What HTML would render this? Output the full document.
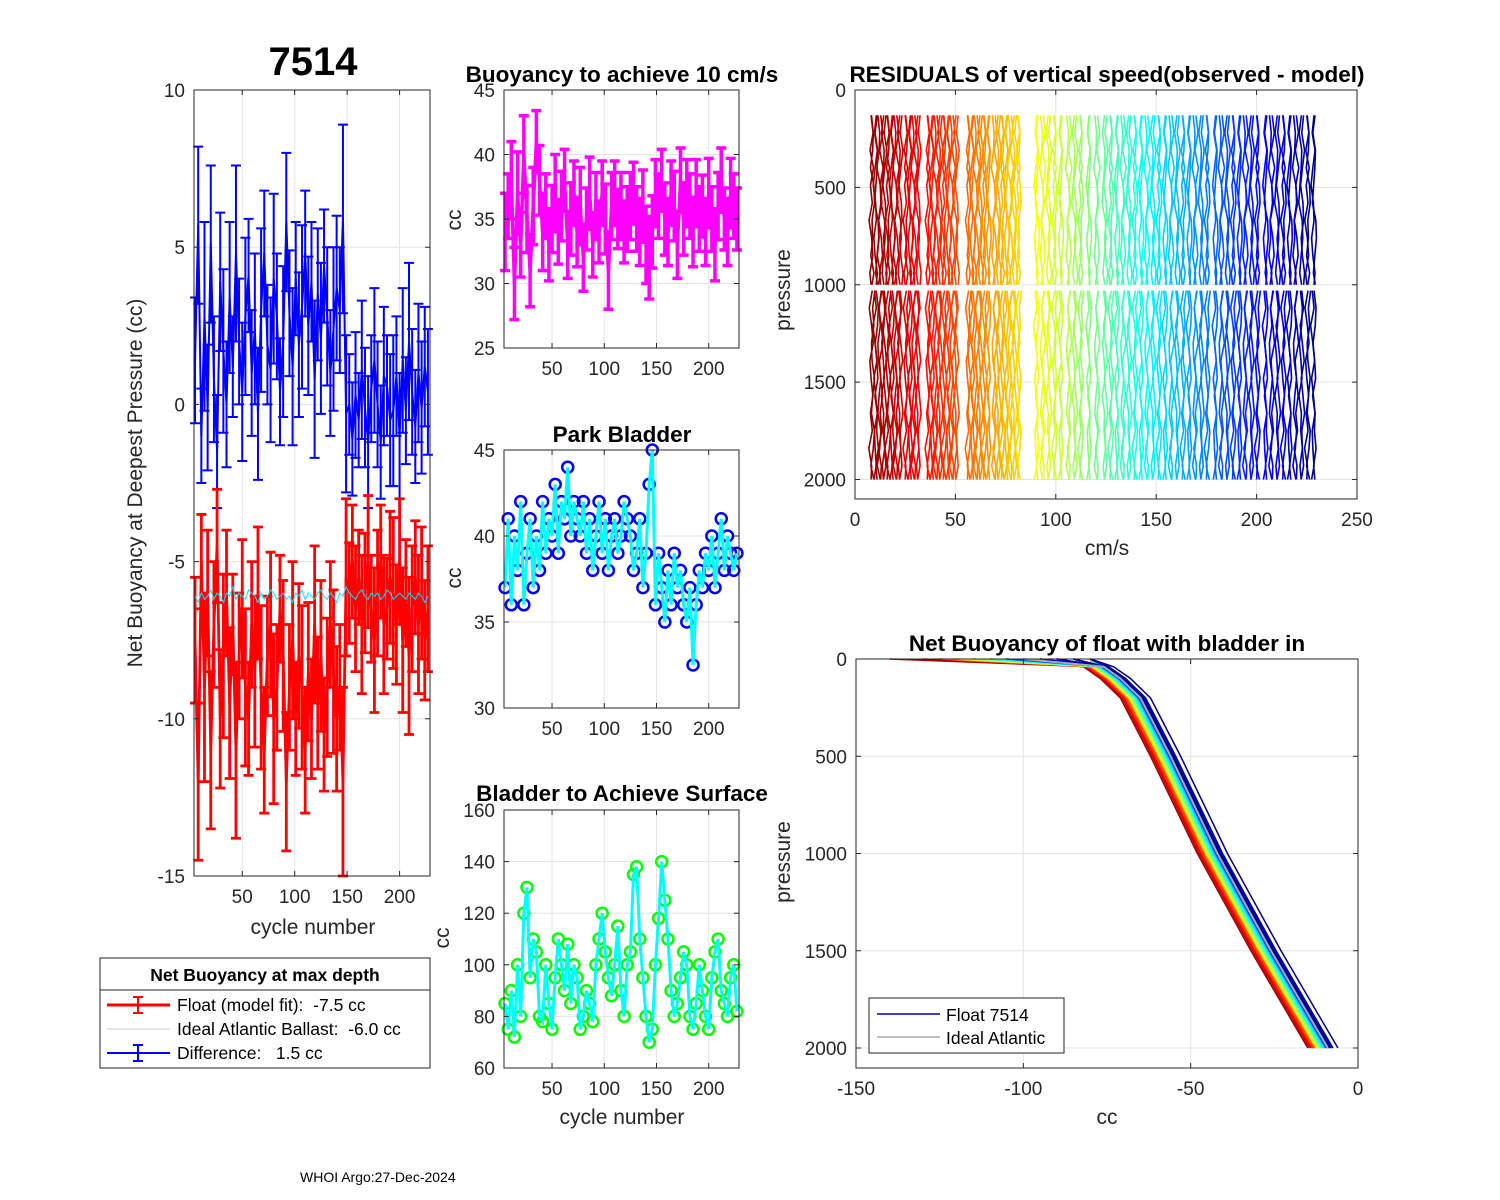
<!DOCTYPE html>
<html><head><meta charset="utf-8"><title>7514</title>
<style>
html,body{margin:0;padding:0;background:#fff;}
svg{display:block;font-family:"Liberation Sans",Arial,sans-serif;}
text{white-space:pre;}
</style></head>
<body>
<svg id="fig" width="1500" height="1200" viewBox="0 0 1500 1200" xmlns="http://www.w3.org/2000/svg">
<rect width="1500" height="1200" fill="#fff"/>
<text x="313" y="75" font-size="40" font-weight="bold" text-anchor="middle">7514</text>
<text x="622" y="82" font-size="22.5" font-weight="bold" text-anchor="middle">Buoyancy to achieve 10 cm/s</text>
<text x="622" y="442" font-size="22.5" font-weight="bold" text-anchor="middle">Park Bladder</text>
<text x="622" y="801" font-size="22.5" font-weight="bold" text-anchor="middle">Bladder to Achieve Surface</text>
<text x="1107" y="82" font-size="22.5" font-weight="bold" text-anchor="middle">RESIDUALS of vertical speed(observed - model)</text>
<text x="1107" y="651" font-size="22.5" font-weight="bold" text-anchor="middle">Net Buoyancy of float with bladder in</text>
<text x="300" y="1182" font-size="14">WHOI Argo:27-Dec-2024</text>
<g id="layer"></g>
</svg>
<script>
const cycles=[5,8,11,14,17,20,23,26,29,32,35,38,41,44,47,50,53,56,59,62,65,68,71,74,77,80,83,86,89,92,95,98,101,104,107,110,113,116,119,122,125,128,131,134,137,140,143,146,149,152,155,158,161,164,167,170,173,176,179,182,185,188,191,194,197,200,203,206,209,212,215,218,221,224,227];
const floatFit=[-7.5,-12,-5,-9,-6,-11,-7,-4.5,-10,-8,-6,-9.5,-7,-11,-8,-6.5,-9,-10,-7,-8.5,-6,-9,-11,-8,-7,-10,-9,-6.5,-8,-12,-9,-7.5,-10,-8,-9,-11,-8.5,-10,-7,-9.5,-8,-10.5,-9,-7,-8.5,-10,-9,-12,-5.5,-6,-5,-6.5,-5.5,-7,-6,-5,-6.5,-7.5,-6,-5,-7,-6.5,-5.5,-6,-7,-5,-7.5,-6,-8,-6.5,-5.5,-7,-6,-7.5,-6.5];
const idealBallast=[-6.1,-6.3,-6.0,-6.2,-6.1,-5.9,-6.2,-6.0,-6.1,-6.3,-6.0,-6.1,-5.8,-6.2,-6.0,-6.1,-6.2,-5.9,-6.0,-6.1,-6.3,-6.0,-6.2,-6.1,-5.9,-6.0,-6.2,-6.1,-6.0,-6.2,-6.1,-6.3,-6.0,-6.1,-5.9,-6.2,-6.0,-6.1,-6.2,-6.0,-5.9,-6.1,-6.2,-6.0,-6.1,-6.3,-6.0,-6.1,-5.8,-6.0,-6.1,-6.2,-6.0,-5.9,-6.1,-6.2,-6.0,-6.1,-6.0,-6.2,-6.1,-5.9,-6.0,-6.2,-6.1,-6.0,-6.1,-6.2,-6.0,-6.1,-6.2,-6.0,-6.1,-6.3,-6.1];
const fitErr=[2,2.5,1.5,3,2,2.5,2,1.8,2.2,2.6,2,2.4,1.6,2.8,2,2.2,2.5,1.8,2,2.4,2.1,2.6,2,1.9,2.3,2.7,2,1.7,2.4,2.2,2,2.5,1.8,2.3,2.6,2,2.2,1.9,2.5,2.1,2.4,1.8,2.2,2,2.6,2.3,2,3,2.5,1.6,1.8,2,1.5,2.2,1.9,2.1,1.7,2.3,2,1.8,2.2,1.6,2.1,2.4,1.9,2,2.3,1.7,2.5,2,1.8,2.2,2.1,1.9,2];
const buoy10=[34,36,38,30,37,33,40,35,31,36,41,38,34,36,33,35,37,34,36,38,33,35,37,34,36,32,35,37,33,36,34,37,35,31,36,37,35,36,34,35,36,37,35,34,36,33,32,34,37,36,38,35,34,37,36,33,38,35,37,36,34,37,35,36,34,37,35,33,36,38,35,34,37,36,35];
const buoyErr=[3,2.5,3,2.8,3.2,2.5,3,2.6,2.8,3,2.4,2.7,3,2.5,2.8,2.6,3,2.5,2.7,2.4,2.6,2.8,2.5,2.7,3,2.6,2.4,2.8,2.5,2.6,2.4,2.5,2.7,3,2.6,2.5,2.3,2.6,2.4,2.5,2.6,2.4,2.5,2.6,2.8,3,3.2,2.8,2.6,2.5,2.4,2.8,2.6,2.5,2.7,2.6,2.5,2.8,2.6,2.5,2.7,2.6,2.5,2.4,2.6,2.7,2.5,2.8,2.6,2.5,2.4,2.6,2.7,2.5,2.4];
const parkBladder=[37,41,36,40,38,42,36,39,41,37,40,38,42,39,41,40,43,39,42,41,44,40,42,41,40,42,39,41,38,40,42,39,41,38,40,41,39,40,42,41,40,38,39,41,37,39,43,45,36,39,37,35,38,36,39,37,38,36,35,37,32.5,36,38,37,39,38,40,37,39,41,38,40,39,38,39];
const surfBladder=[85,75,90,72,100,80,120,130,95,110,105,80,78,100,85,75,95,110,100,90,108,85,100,95,75,80,90,85,78,100,110,120,105,95,88,100,115,90,80,100,105,135,138,110,95,80,70,75,100,118,140,125,110,90,80,85,95,105,100,80,75,85,100,90,80,75,95,105,110,90,85,80,95,100,82];
// residuals: cycles with profiles
const residCycles=[8,10,12,14,16,18,20,22,25,27,29,31,36,38,40,42,44,46,48,50,56,58,60,62,64,66,69,71,73,75,77,79,81,90,93,96,99,102,106,109,112,116,120,124,127,130,133,136,139,142,145,148,151,154,157,160,163,166,169,172,175,179,182,185,188,191,194,197,200,204,207,210,213,216,219,222,225,228];
const presTop=[130,220,310,400,490,580,670,760,850,940,1000];
const presBot=[1030,1120,1210,1300,1390,1480,1570,1660,1750,1840,1930,2000];
const residA=[0,1,-0.5,1.2,-0.3,0.6,-1,0.3,0.9,-0.6,0,0.6,-0.9,0.3,1.1,-0.6,0,0.9,-0.3,0.6,-1.1,0.3,0];
const residB=[0.6,-0.3,1.1,0,-0.9,0.3,0.6,-0.6,0,1.1,0.6,-0.3,0.6,-1.1,0,0.9,-0.6,0.3,1.1,-0.3,0,0.6,-0.6];
const residC=[-0.6,0.3,0,-1.1,0.6,0.9,-0.3,0,-0.9,0.6,-0.3,1.1,0,0.6,-0.6,-0.3,0.9,0,-0.6,0.9,0.3,-0.9,0.6];
const residD=[0.3,-0.8,0.5,0.2,-0.4,-1,0.7,1,0.2,-0.5,0.4,-0.2,0.8,0.4,-0.7,0.1,0.6,-0.9,0.3,0,0.8,-0.4,0.2];
// net buoyancy profile
const nbPres=[0,40,100,150,200,300,500,1000,1500,2000];
const nbIdeal=[-100,-76,-71,-68,-65,-62,-56,-42,-26,-9];
const surfaceCC=[-130,-120,-100,-140,-110,-95,-125,-105,-90,-115,-100,-85,-120,-95,-110,-80,-105,-90,-125,-100,-85,-115,-95,-80,-110,-90,-100,-85,-120,-95,-80,-105,-90,-110,-85,-100,-95,-80,-115,-90,-105,-85,-100,-80,-95,-110,-85,-90,-100,-80,-95,-85,-105,-90,-80,-100,-85,-95,-80,-90,-105,-85,-80,-95,-90,-100,-85,-80,-90,-95,-85,-80,-90,-85,-80];
const deepShift=[-5,-4,-6,-3,-4.5,-5.5,-3.5,-4,-5,-4.5,-3,-4,-3.5,-4.5,-2.5,-3.5,-4,-3,-3.5,-2.5,-3,-3.5,-2,-3,-2.5,-3.5,-2,-2.5,-3,-1.5,-2.5,-2,-3,-1.5,-2,-2.5,-1.5,-2,-1,-1.5,-2,-1,-1.5,-0.5,-1,-1.5,-0.5,-1,0,-0.5,-1,0,-0.5,0.5,0,-0.5,0.5,0,1,0,0.5,-0.5,1,0.5,0,1,0.5,1.5,0,1,0.5,1.5,1,0.5,3];
const ticks1=[-15,-10,-5,0,5,10], ticksCyc=[50,100,150,200];

const NS="http://www.w3.org/2000/svg";
const layer=document.getElementById('layer');
function el(tag,attrs,parent){const e=document.createElementNS(NS,tag);for(const k in attrs)e.setAttribute(k,attrs[k]);(parent||layer).appendChild(e);return e;}
function lin(d0,d1,r0,r1){return v=>r0+(v-d0)*(r1-r0)/(d1-d0);}
function jet(t){t=1-t;const c=x=>Math.round(255*Math.max(0,Math.min(1,x)));return `rgb(${c(1.5-Math.abs(4*t-3))},${c(1.5-Math.abs(4*t-2))},${c(1.5-Math.abs(4*t-1))})`;}

function axes(name,L,T,R,B,xs,ys,xt,yt){
  const g=el('g',{});
  
  
  for(const v of xt){const x=xs(v);el('line',{x1:x,y1:T,x2:x,y2:B,stroke:'#e3e3e3','stroke-width':1},g);}
  for(const v of yt){const y=ys(v);el('line',{x1:L,y1:y,x2:R,y2:y,stroke:'#e3e3e3','stroke-width':1},g);}
  const p=el('g',{},g);
  return {g,p,finish(){
    const f=el('g',{},g);
    el('rect',{x:L,y:T,width:R-L,height:B-T,fill:'none',stroke:'#262626','stroke-width':1},f);
    for(const v of xt){const x=xs(v);el('line',{x1:x,y1:B,x2:x,y2:B-5,stroke:'#262626'},f);el('line',{x1:x,y1:T,x2:x,y2:T+5,stroke:'#262626'},f);
      const t=el('text',{x:x,y:B+27,'font-size':19,'text-anchor':'middle',fill:'#262626'},f);t.textContent=v;
      
      }
    for(const v of yt){const y=ys(v);el('line',{x1:L,y1:y,x2:L+5,y2:y,stroke:'#262626'},f);el('line',{x1:R,y1:y,x2:R-5,y2:y,stroke:'#262626'},f);
      const t=el('text',{x:L-9,y:y+7,'font-size':19,'text-anchor':'end',fill:'#262626'},f);t.textContent=v;
      
      }
  }};
}
function label(txt,x,y,rot,name){const t=el('text',{x:x,y:y,'font-size':21,'text-anchor':'middle',fill:'#262626',transform:rot?`rotate(-90 ${x} ${y})`:''});t.textContent=txt;
  
  }
function errbars(g,xs,ys,vals,errs,color,w,cap){
  let d='';
  cycles.forEach((c,i)=>{const x=xs(c);d+=(i?'L':'M')+x+','+ys(vals[i]);});
  cycles.forEach((c,i)=>{const x=xs(c),lo=ys(vals[i]-errs[i]),hi=ys(vals[i]+errs[i]);
    const b=el('path',{d:`M${x},${lo}L${x},${hi}M${x-cap},${lo}L${x+cap},${lo}M${x-cap},${hi}L${x+cap},${hi}`,stroke:color,'stroke-width':w,fill:'none'},g);
    
    });
  const l=el('path',{d,stroke:color,'stroke-width':w,fill:'none','stroke-linejoin':'round'},g);
  
  
}

// Panel 1
{const xs=lin(4,229,194,430),ys=lin(-15,10,876,90);
 const a=axes('net-buoyancy-axes',194,90,430,876,xs,ys,ticksCyc,ticks1);
 const diff=cycles.map((c,i)=>idealBallast[i]-floatFit[i]);
 errbars(a.p,xs,ys,diff,fitErr,'#0000ff',2,5);
 errbars(a.p,xs,ys,floatFit,fitErr,'#ff0000',2.8,5);
 let d='';cycles.forEach((c,i)=>{d+=(i?'L':'M')+xs(c)+','+ys(idealBallast[i]);});
 const il=el('path',{d,stroke:'#00e5ff','stroke-width':1,fill:'none'},a.p);
 
 
 a.finish();
 label('Net Buoyancy at Deepest Pressure (cc)',142,483,true,'y-axis-title');
 label('cycle number',313,934,false,'x-axis-title');}
// Panel 2
{const xs=lin(4,229,504,739),ys=lin(25,45,348,90);
 const a=axes('buoyancy-10cms-axes',504,90,739,348,xs,ys,ticksCyc,[25,30,35,40,45]);
 errbars(a.p,xs,ys,buoy10,buoyErr,'#ff00ff',3.5,5);
 a.finish();label('cc',461,220,true,'buoyancy-y-title');}
// Panel 3
{const xs=lin(4,229,504,739),ys=lin(30,45,708,450);
 const a=axes('park-bladder-axes',504,450,739,708,xs,ys,ticksCyc,[30,35,40,45]);
 cycles.forEach((c,i)=>{const m=el('circle',{cx:xs(c),cy:ys(parkBladder[i]),r:5.5,fill:'none',stroke:'#0000ff','stroke-width':2.5},a.p);
  
  });
 let d='';cycles.forEach((c,i)=>{d+=(i?'L':'M')+xs(c)+','+ys(parkBladder[i]);});
 const pl=el('path',{d,stroke:'#00ffff','stroke-width':3,fill:'none'},a.p);
 
 
 a.finish();label('cc',461,578,true,'park-y-title');}
// Panel 4
{const xs=lin(4,229,504,739),ys=lin(60,160,1068,810);
 const a=axes('surface-bladder-axes',504,810,739,1068,xs,ys,ticksCyc,[60,80,100,120,140,160]);
 cycles.forEach((c,i)=>{const m=el('circle',{cx:xs(c),cy:ys(surfBladder[i]),r:5.5,fill:'none',stroke:'#00ff00','stroke-width':2.5},a.p);
  
  });
 let d='';cycles.forEach((c,i)=>{d+=(i?'L':'M')+xs(c)+','+ys(surfBladder[i]);});
 const sl=el('path',{d,stroke:'#00ffff','stroke-width':3,fill:'none'},a.p);
 
 
 a.finish();label('cc',449,938,true,'surface-y-title');label('cycle number',622,1124,false,'x-axis-title-bottom');}
// Panel 5
{const xs=lin(0,250,855,1357),ys=lin(0,2100,90,499);
 const a=axes('residuals-axes',855,90,1357,499,xs,ys,[0,50,100,150,200,250],[0,500,1000,1500,2000]);
 const profs=[residA,residB,residC,residD];
 residCycles.forEach((c,i)=>{const col=jet((c-5)/225);
   for(let j=0;j<2;j++){const pr=profs[(i+j*2)%4];
   let d='';presTop.forEach((p,k)=>{d+=(k?'L':'M')+xs(c+j*0.8+pr[k])+','+ys(p);});
   presBot.forEach((p,k)=>{d+=(k?'L':'M')+xs(c+j*0.8+pr[k+11])+','+ys(p);});
   const l=el('path',{d,stroke:col,'stroke-width':1.6,fill:'none'},a.p);
   
   }});
 a.finish();label('pressure',790,290,true,'residual-y-title');label('cm/s',1107,555,false,'residual-x-title');}
// Panel 6
{const xs=lin(-150,0,856,1358),ys=lin(0,2000,659,1048);
 const a=axes('net-buoyancy-profile-axes',856,659,1358,1068,xs,ys,[-150,-100,-50,0],[0,500,1000,1500,2000]);
 cycles.forEach((c,i)=>{const col=jet((c-5)/222);
   let d='';nbPres.forEach((p,k)=>{const v=k===0?surfaceCC[i]:nbIdeal[k]+deepShift[i];d+=(k?'L':'M')+xs(v)+','+ys(p);});
   const l=el('path',{d,stroke:col,'stroke-width':1.5,fill:'none'},a.p);
   
   });
 let d='';nbPres.forEach((p,k)=>{d+=(k?'L':'M')+xs(nbIdeal[k])+','+ys(p);});
 const il=el('path',{d,stroke:'#aaaaaa','stroke-width':2,fill:'none'},a.p);
 
 
 a.finish();label('pressure',790,862,true,'profile-y-title');label('cc',1107,1124,false,'profile-x-title');
 const lg=el('g',{});
 
 
 el('rect',{x:869,y:998,width:195,height:55,fill:'#fff',stroke:'#262626'},lg);
 el('line',{x1:877,y1:1014,x2:940,y2:1014,stroke:'#00008f','stroke-width':1.5},lg);
 el('line',{x1:877,y1:1037,x2:940,y2:1037,stroke:'#aaaaaa','stroke-width':1.5},lg);
 const t1=el('text',{x:946,y:1021,'font-size':17.5},lg);t1.textContent='Float 7514';
 const t2=el('text',{x:946,y:1044,'font-size':17.5},lg);t2.textContent='Ideal Atlantic';}
// Left legend
{const lg=el('g',{});
 
 
 el('rect',{x:100,y:958,width:330,height:110,fill:'#fff',stroke:'#262626'},lg);
 el('line',{x1:100,y1:990,x2:430,y2:990,stroke:'#262626'},lg);
 const h=el('text',{x:265,y:981,'font-size':17.5,'font-weight':'bold','text-anchor':'middle'},lg);h.textContent='Net Buoyancy at max depth';
 const rows=[['#ff0000',3,'Float (model fit):  -7.5 cc',1005,true],['#cccccc',1,'Ideal Atlantic Ballast:  -6.0 cc',1029,false],['#0000ff',2,'Difference:   1.5 cc',1053,true]];
 rows.forEach(r=>{el('line',{x1:107,y1:r[3],x2:170,y2:r[3],stroke:r[0],'stroke-width':r[1]},lg);
   if(r[4]){el('path',{d:`M138,${r[3]-8}L138,${r[3]+8}M133,${r[3]-8}L143,${r[3]-8}M133,${r[3]+8}L143,${r[3]+8}`,stroke:r[0],'stroke-width':2,fill:'none'},lg);}
   const t=el('text',{x:177,y:r[3]+6,'font-size':17.5},lg);t.textContent=r[2];});}
</script>
</body></html>
